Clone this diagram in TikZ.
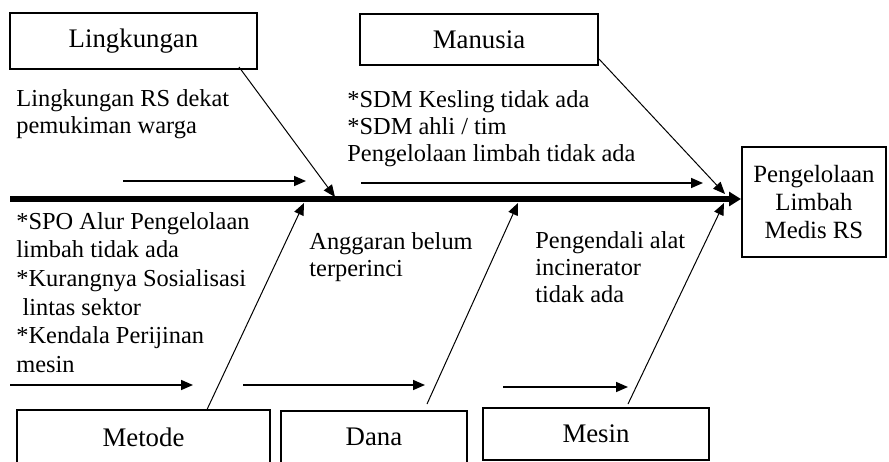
\documentclass[tikz,border=0pt]{standalone}
\usepackage{fontspec}
\setmainfont{Liberation Serif}
\usetikzlibrary{positioning,arrows.meta,calc}

\begin{document}
\begin{tikzpicture}[x=0.5pt,y=-0.5pt,
    box/.style={draw, line width=1pt, inner sep=0pt, font=\fontsize{13.4}{16}\selectfont},
    note/.style={anchor=north west, align=left, inner sep=0pt, font=\fontsize{12.2}{13.5}\selectfont},
    bone/.style={line width=0.5pt, -{Triangle[length=6pt,width=5pt]}},
    twig/.style={line width=0.8pt, -{Triangle[length=6pt,width=5pt]}}]
  \useasboundingbox (0,0) rectangle (889,461);
  \clip (0,0) rectangle (889,461);

  % cause boxes
  \node[box, minimum width=123.5pt, minimum height=28pt] (ling) at (133.5,41) {Lingkungan};
  \node[box, minimum width=119pt, minimum height=25.5pt] (man) at (479,39.5) {Manusia};
  \node[box, minimum width=126.5pt, minimum height=27pt] (met) at (143.5,437) {Metode};
  \node[box, minimum width=93pt, minimum height=26pt] (dana) at (374,437) {Dana};
  \node[box, minimum width=113pt, minimum height=26pt] (mesin) at (596,434) {Mesin};
  % effect
  \node[box, align=center, minimum width=72pt, minimum height=55pt,
        font=\fontsize{12.4}{14}\selectfont] (goal) at (814,202) {Pengelolaan\\Limbah\\Medis RS};

  % notes
  \node[note] (nling) at (16,89) {Lingkungan RS dekat\\pemukiman warga};
  \node[note] (nman) at (347,90) {*SDM Kesling tidak ada\\*SDM ahli / tim\\Pengelolaan limbah tidak ada};
  \node[note, font=\fontsize{12.2}{14.3}\selectfont] (nmet) at (16,212)
    {*SPO Alur Pengelolaan\\limbah tidak ada\\*Kurangnya Sosialisasi\\\ lintas sektor\\*Kendala Perijinan\\mesin};
  \node[note] (ndana) at (309,232) {Anggaran belum\\terperinci};
  \node[note] (nmesin) at (535,231) {Pengendali alat\\incinerator\\tidak ada};

  % spine
  \coordinate (tail) at (10,199);
  \draw[line width=2.8pt, -{Triangle[length=6pt,width=7pt]}] (tail) -- (tail -| goal.west);

  % bones
  \coordinate (s1) at (335,197);
  \coordinate (s2) at (725,194);
  \coordinate (s3) at (304,203);
  \coordinate (s4) at (518,203);
  \coordinate (s5) at (724,203);
  \draw[bone] ([xshift=-9.5pt,yshift=1.5pt]ling.south east) -- (s1);
  \draw[bone] ([yshift=3.5pt]man.south east) -- (s2);
  \draw[bone] ($(met.north west)!0.75!(met.north east)$) -- (s3);
  \draw[bone] ([xshift=26.5pt,yshift=3pt]dana.north) -- (s4);
  \draw[bone] ([xshift=16pt,yshift=1.5pt]mesin.north) -- (s5);

  % small arrows
  \foreach \i/\xa/\xb/\yy in {1/123/306/181, 2/361/703/183, 3/10/193/385, 4/243/425/385, 5/503/628/387} {
    \coordinate (tw\i a) at (\xa,\yy);
    \coordinate (tw\i b) at (\xb,\yy);
    \draw[twig] (tw\i a) -- (tw\i b);
  }
\end{tikzpicture}
\end{document}
